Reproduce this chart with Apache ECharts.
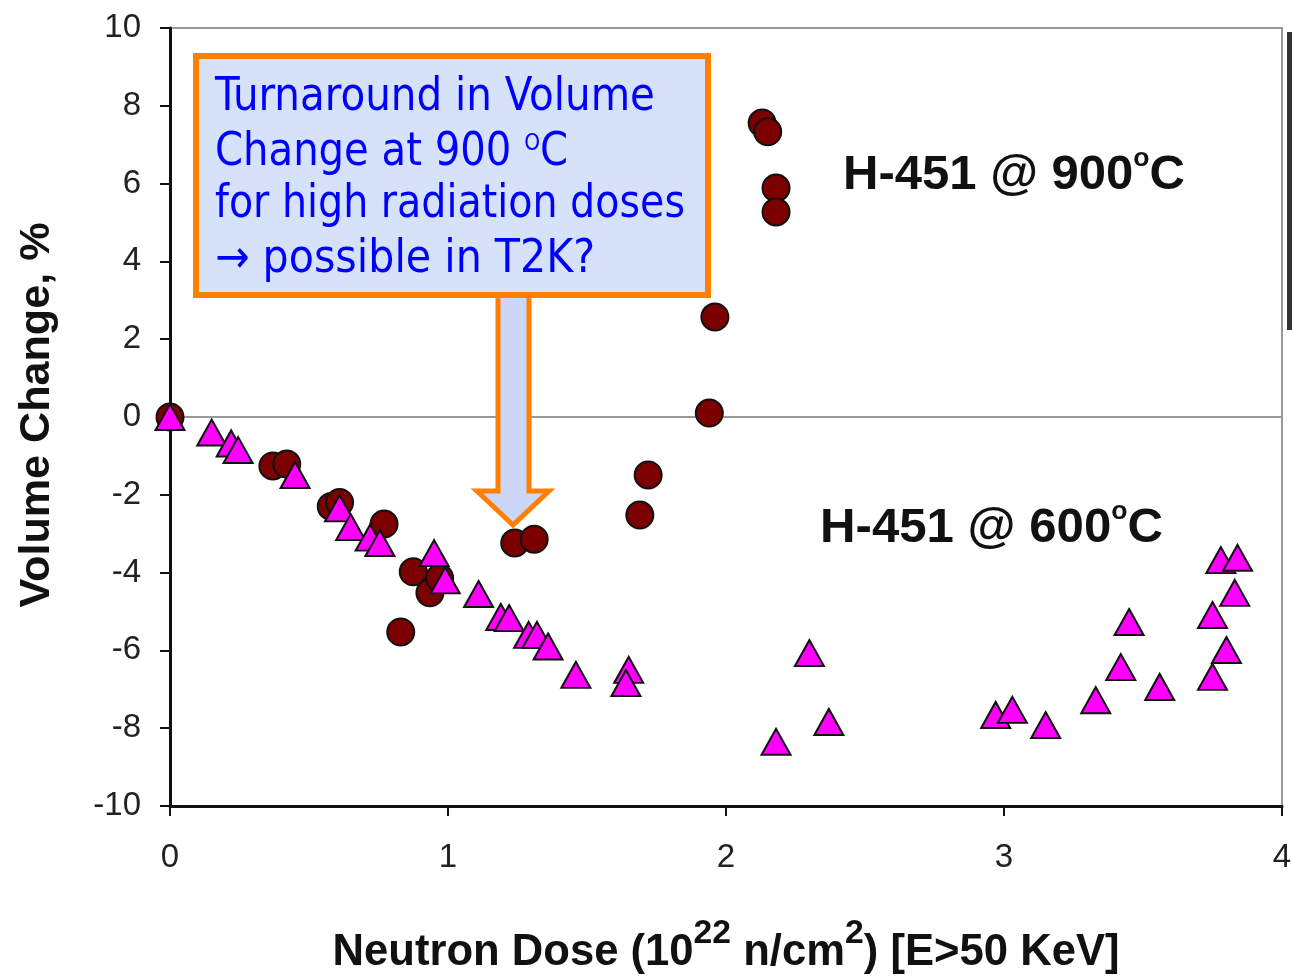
<!DOCTYPE html>
<html><head><meta charset="utf-8">
<script src="https://cdn.jsdelivr.net/npm/echarts@6/dist/echarts.min.js"></script>
<style>html,body{margin:0;padding:0;background:#fff}#c{width:1292px;height:976px}</style>
</head><body><div id="c"></div>
<script>
// H-451 @ 900°C  (circles)
const data900 = [
  [0,0],[0.37,-1.26],[0.42,-1.21],[0.58,-2.3],[0.61,-2.2],[0.77,-2.75],
  [0.875,-3.98],[0.935,-4.52],[0.97,-4.14],[0.83,-5.53],[1.24,-3.24],[1.31,-3.14],
  [1.69,-2.52],[1.72,-1.49],[1.94,0.1],[1.96,2.57],[2.13,7.56],[2.15,7.33],
  [2.18,5.89],[2.18,5.27]
];
// H-451 @ 600°C  (triangles)
const data600 = [
  [0,0],[0.15,-0.4],[0.22,-0.68],[0.245,-0.85],[0.45,-1.49],[0.61,-2.35],
  [0.65,-2.83],[0.72,-3.1],[0.755,-3.24],[0.95,-3.5],[0.99,-4.2],[1.11,-4.55],
  [1.19,-5.14],[1.22,-5.17],[1.29,-5.6],[1.32,-5.6],[1.36,-5.9],[1.46,-6.63],
  [1.65,-6.5],[1.64,-6.84],[2.18,-8.35],[2.30,-6.07],[2.37,-7.84],
  [2.97,-7.66],[3.03,-7.53],[3.15,-7.92],[3.33,-7.28],[3.42,-6.43],[3.45,-5.27],
  [3.56,-6.94],[3.75,-5.09],[3.75,-6.68],[3.80,-5.99],[3.83,-4.52],[3.78,-3.68],[3.84,-3.62]
];
const xTicks = [0,1,2,3,4];
const yTicks = [-10,-8,-6,-4,-2,0,2,4,6,8,10];
const annotationLines = ['Turnaround in Volume', 'Change at 900 ', 'for high radiation doses', '\u2192 possible in T2K?'];

const ctx = document.createElement('canvas').getContext('2d');
function fontStr(p){ return (p.bold?'bold ':'') + p.size + 'px ' + p.family; }
function measure(p){ ctx.font = fontStr(p); return ctx.measureText(p.t).width; }
// builds a group of text runs; (x,y) = start (or centre) point on the baseline
function run(parts, x, y, opts){
  opts = opts || {};
  let total = 0; parts.forEach(p=>{ p.w = measure(p); total += p.w; });
  const sx = opts.width ? opts.width/total : (opts.scaleX||1);
  let cx = opts.center ? -total/2 : 0;
  const children = parts.map(p=>{
    const c = {type:'text', z:30, x:cx, y:(p.dy||0) - 0.3*p.size,
      style:{text:p.t, font:fontStr(p), fill:p.color||opts.color||'#111', align:'left', verticalAlign:'middle'}};
    cx += p.w; return c;
  });
  return {type:'group', x:x, y:y, scaleX:sx, rotation:opts.rotation||0, z:30, children:children};
}
const LS = '"Liberation Sans"', DJ = '"DejaVu Sans Condensed","DejaVu Sans"';
const g = [];
g.push({type:'rect', shape:{x:1287,y:32,width:5,height:298}, style:{fill:'#333'}});
g.push({type:'polygon', z:10, shape:{points:[[498,294],[529,294],[529,491],[549,491],[513,525],[477,491],[498,491]]},
  style:{fill:'#ccd7f7', stroke:'#ff7f00', lineWidth:5, lineJoin:'miter'}});
g.push({type:'rect', z:11, shape:{x:196,y:56,width:512,height:239}, style:{fill:'#d6e2fa', stroke:'#ff7f00', lineWidth:6}});
g.push({type:'rect', z:12, shape:{x:501,y:298,width:25,height:8}, style:{fill:'#ccd7f7'}});
// annotation text
const aSize = 46;
const baselines = [112,167,219,274];
const lineWidths = [440,353,470,380];
annotationLines.forEach((t,i)=>{
  const parts = [{t:t, size:aSize, family:DJ}];
  if (i===1){ parts.push({t:'O', size:23, family:DJ, dy:-16}); parts.push({t:'C', size:aSize, family:DJ}); }
  g.push(run(parts, 215, baselines[i], {width:lineWidths[i], color:'#0000ff'}));
});
// in-plot labels
function hLabel(temp){ return [{t:'H-451 @ '+temp, size:48, bold:true, family:LS},{t:'o', size:26, bold:true, family:LS, dy:-23},{t:'C', size:48, bold:true, family:LS}]; }
g.push(run(hLabel('900'), 843, 190, {width:342}));
g.push(run(hLabel('600'), 820, 543, {width:343}));
// axis titles
g.push(run([{t:'Neutron Dose (10', size:44, bold:true, family:LS},{t:'22', size:34, bold:true, family:LS, dy:-22},
  {t:' n/cm', size:44, bold:true, family:LS},{t:'2', size:34, bold:true, family:LS, dy:-22},
  {t:') [E>50 KeV]', size:44, bold:true, family:LS}], 726, 966, {width:787, center:true}));
g.push(run([{t:'Volume Change, %', size:43, bold:true, family:LS}], 50, 415, {width:385, center:true, rotation:Math.PI/2}));

const chart = echarts.init(document.getElementById('c'));
const tickFont = {fontFamily:'Liberation Sans', fontSize:33, color:'#222'};
chart.setOption({
  animation:false,
  grid:{left:170, right:10, top:28, bottom:170, outerBoundsMode:'none', containLabel:false,
        show:true, borderColor:'#999', borderWidth:2, backgroundColor:'transparent'},
  xAxis:{type:'value', min:xTicks[0], max:xTicks[xTicks.length-1], interval:1,
    axisLine:{show:true, onZero:false, lineStyle:{color:'#111', width:3}},
    axisTick:{show:true, length:10, lineStyle:{color:'#111', width:2}},
    axisLabel:Object.assign({margin:35}, tickFont),
    splitLine:{show:false}},
  yAxis:{type:'value', min:yTicks[0], max:yTicks[yTicks.length-1], interval:2,
    axisLine:{show:true, onZero:false, lineStyle:{color:'#111', width:3}},
    axisTick:{show:true, length:10, lineStyle:{color:'#111', width:2}},
    axisLabel:Object.assign({margin:29}, tickFont),
    splitLine:{show:false}},
  series:[
    {type:'scatter', name:'H-451 @ 900°C', data:data900, symbol:'circle', symbolSize:27,
     itemStyle:{color:'#7d0000', borderColor:'#111', borderWidth:2, opacity:1},
     markLine:{silent:true, symbol:'none', label:{show:false}, z:1,
       lineStyle:{color:'#999', width:2, type:'solid'}, data:[{yAxis:0}]}, z:3},
    {type:'scatter', name:'H-451 @ 600°C', data:data600, symbol:'triangle', symbolSize:[29,26],
     itemStyle:{color:'#ff00ff', borderColor:'#111', borderWidth:2, opacity:1}, z:4}
  ],
  graphic:g
});
</script></body></html>
